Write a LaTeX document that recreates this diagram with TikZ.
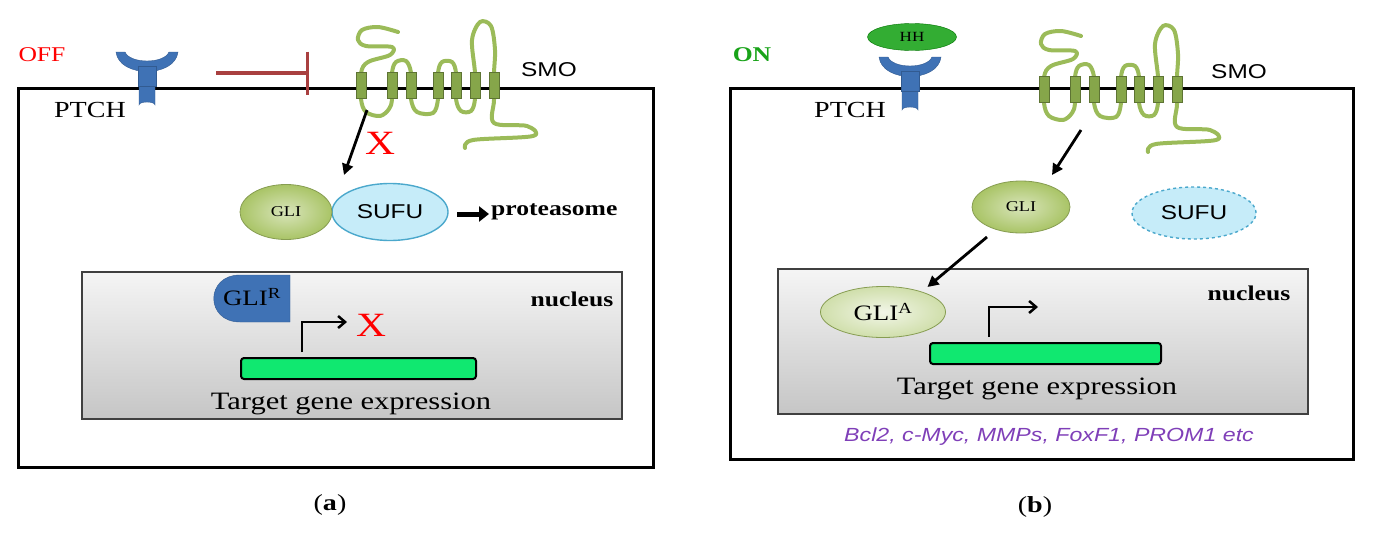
\documentclass[tikz,border=0pt]{standalone}
\usepackage{fontspec}
\setmainfont{Liberation Serif}
\newfontfamily\sansf{Liberation Sans}
\usetikzlibrary{arrows.meta,shapes.geometric}
\definecolor{smog}{HTML}{9BBB59}
\definecolor{smoh}{HTML}{86A64A}
\definecolor{ptch}{HTML}{3F72B5}
\definecolor{genec}{HTML}{10E870}
\definecolor{sufuf}{HTML}{C6ECF9}
\definecolor{sufud}{HTML}{4BA8CC}
\definecolor{glif}{HTML}{A9C466}
\definecolor{purp}{HTML}{7F3FB8}
\newcommand{\fs}[1]{\fontsize{#1}{#1}\selectfont}
\newcommand{\wx}[1]{\scalebox{1.22}[1]{#1}}
\tikzset{
 cell/.style={draw=black,line width=3pt},
 nucl/.style={draw=black!75,line width=1.4pt,top color=gray!8,bottom color=gray!45},
 helix/.style={draw=smoh!70!black,fill=smoh,line width=0.8pt},
 loop/.style={draw=smog,line width=4pt,line join=round,line cap=round},
 arr/.style={-{Triangle[length=11pt,width=11pt]},line width=2.8pt},
 bent/.style={line width=2.8pt,-{Straight Barb[length=7pt,width=12pt,line width=2.5pt]}},
 gene/.style={draw=black,fill=genec,line width=2pt,rounded corners=3pt},
 gli/.style={ellipse,draw=glif!80!black,inner color=glif!45,outer color=glif,line width=0.8pt,inner sep=0pt},
 sufu/.style={ellipse,draw=sufud,fill=sufuf,line width=1.4pt,inner sep=0pt,font=\sansf\fs{20}},
 ptchs/.style={fill=ptch,draw=ptch!80!black},
 lbl/.style={inner sep=0pt},
}
\newcommand{\smoshape}{%
 \draw[loop] plot[smooth,tension=0.55] coordinates {(398,32)(378,27)(362,30)(358,40)(366,46)(392,47)(390,55)(368,62)(361,73)(361,99)(366,112)(380,116)(389,109)(392,99)(392,73)(396,62)(406,61)(411,73)(411,99)(417,112)(433,113)(438,99)(438,73)(442,62)(452,62)(456,73)(456,99)(461,111)(471,111)(475,99)(475,73)(472,40)(480,22)(491,26)(495,50)(494,73)(494,100)(494,123)(527,126)(533,136)(473,140)(465,148)};
 \foreach \c in {361,392,411,438,456,475,494} \draw[helix] (\c-5,72) rectangle (\c+5,98);}
\newcommand{\ptchshape}{%
 \fill[ptchs] (-8,84) -- (-8,105) arc(180:360:8 and 3) -- (8,84) -- cycle;
 \fill[ptchs] (-31,52) .. controls (-28,78) and (28,78) .. (31,52) -- (22,52) .. controls (17,64) and (-17,64) .. (-22,52) -- cycle;
 \fill[ptchs] (-9,66) rectangle (9,86);}
\begin{document}
\begin{tikzpicture}[x=1pt,y=-1pt]
\useasboundingbox (0,0) rectangle (1375,533);
% ---------- panel a
\draw[cell] (18,88) -| (653,467) -| cycle;
\draw[nucl] (82,272) rectangle (622,419);
\begin{scope}[shift={(147,0)}]\ptchshape\end{scope}
\node[lbl,text=red,font=\fs{21}] (off) at (42,55) {\wx{OFF}};
\node[lbl,font=\fs{23}] (ptcha) at (90,110) {\wx{PTCH}};
\node[lbl,font=\sansf\fs{20}] (smoa) at (549,70) {\wx{SMO}};
\coordinate (inhs) at (216,73); \coordinate (inhe) at (309,73);
\draw[draw=red!55!black!75,line width=3.5pt,-{Bar[width=43pt,line width=3pt]}] (inhs) -- (inhe);
\smoshape
\coordinate (a1) at (367,110); \coordinate (a2) at (344,175);
\draw[arr] (a1) -- (a2);
\node[lbl,text=red,font=\fs{34}] (xa) at (380,143) {\wx{X}};
\node[sufu,minimum width=116pt,minimum height=57pt] (sufua) at (390,212) {\wx{SUFU}};
\node[gli,minimum width=92pt,minimum height=55pt,font=\fs{15}] (glia) at (286,212) {\wx{GLI}};
\coordinate (p1) at (457,214); \coordinate (p2) at (489,214);
\draw[-{Triangle[length=10pt,width=15pt]},line width=5pt] (p1) -- (p2);
\node[lbl,font=\bfseries\fs{21},anchor=west] (prot) at (491,212) {\wx{proteasome}};
\fill[ptchs] (290,275) -- (290,322) -- (240,322) .. controls (205,322) and (205,275) .. (240,275) -- cycle;
\node[lbl,font=\fs{22}] (glir) at (252,297) {\wx{GLI\textsuperscript{R}}};
\node[lbl,font=\bfseries\fs{21}] (nua) at (572,299) {\wx{nucleus}};
\coordinate (b0) at (302,352); \coordinate (b1) at (302,322); \coordinate (b2) at (347,322);
\draw[bent] (b0) -- (b1) -- (b2);
\node[lbl,text=red,font=\fs{34}] (xb) at (371,325) {\wx{X}};
\draw[gene] (241,358) rectangle (476,379);
\node[lbl,font=\fs{25}] (tga) at (351,404) {\wx{Target gene expression}};
\node[lbl,font=\fs{23}] (la) at (330,505) {\wx{(\textbf{a})}};
% ---------- panel b
\draw[cell] (730,88) -| (1353,459) -| cycle;
\draw[nucl] (778,269) rectangle (1308,414);
\begin{scope}[shift={(910,5)}]\ptchshape\end{scope}
\node[ellipse,fill=green!60!black!80,draw=green!45!black,minimum width=89pt,minimum height=27pt,inner sep=0pt,font=\fs{14}] (hh) at (912,37) {\wx{HH}};
\node[lbl,text=green!60!black!90,font=\bfseries\fs{21}] (on) at (752,55) {\wx{ON}};
\node[lbl,font=\fs{23}] (ptchb) at (850,110) {\wx{PTCH}};
\node[lbl,font=\sansf\fs{20}] (smob) at (1239,72) {\wx{SMO}};
\begin{scope}[shift={(683,4)}]\smoshape\end{scope}
\coordinate (c1) at (1081,130); \coordinate (c2) at (1052,175);
\draw[arr] (c1) -- (c2);
\node[gli,minimum width=98pt,minimum height=52pt,font=\fs{15}] (glib) at (1021,207) {\wx{GLI}};
\node[sufu,dashed,minimum width=124pt,minimum height=52pt] (sufub) at (1194,213) {\wx{SUFU}};
\coordinate (d1) at (987,237);
\node[gli,minimum width=125pt,minimum height=51pt,font=\fs{22},inner color=glif!15,outer color=glif!55] (glia2) at (883,312) {\wx{GLI\textsuperscript{A}}};
\draw[arr] (d1) -- (glia2.north east |- 0,287) ;
\node[lbl,font=\bfseries\fs{21}] (nub) at (1249,293) {\wx{nucleus}};
\coordinate (e0) at (989,337); \coordinate (e1) at (989,307); \coordinate (e2) at (1038,307);
\draw[bent] (e0) -- (e1) -- (e2);
\draw[gene] (930,343) rectangle (1161,364);
\node[lbl,font=\fs{25}] (tgb) at (1037,389) {\wx{Target gene expression}};
\node[lbl,text=purp,font=\sansf\itshape\fs{19}] (lst) at (1049,437) {\wx{Bcl2, c-Myc, MMPs, FoxF1, PROM1 etc}};
\node[lbl,font=\fs{23}] (lb) at (1035,507) {\wx{(\textbf{b})}};
\end{tikzpicture}
\end{document}
